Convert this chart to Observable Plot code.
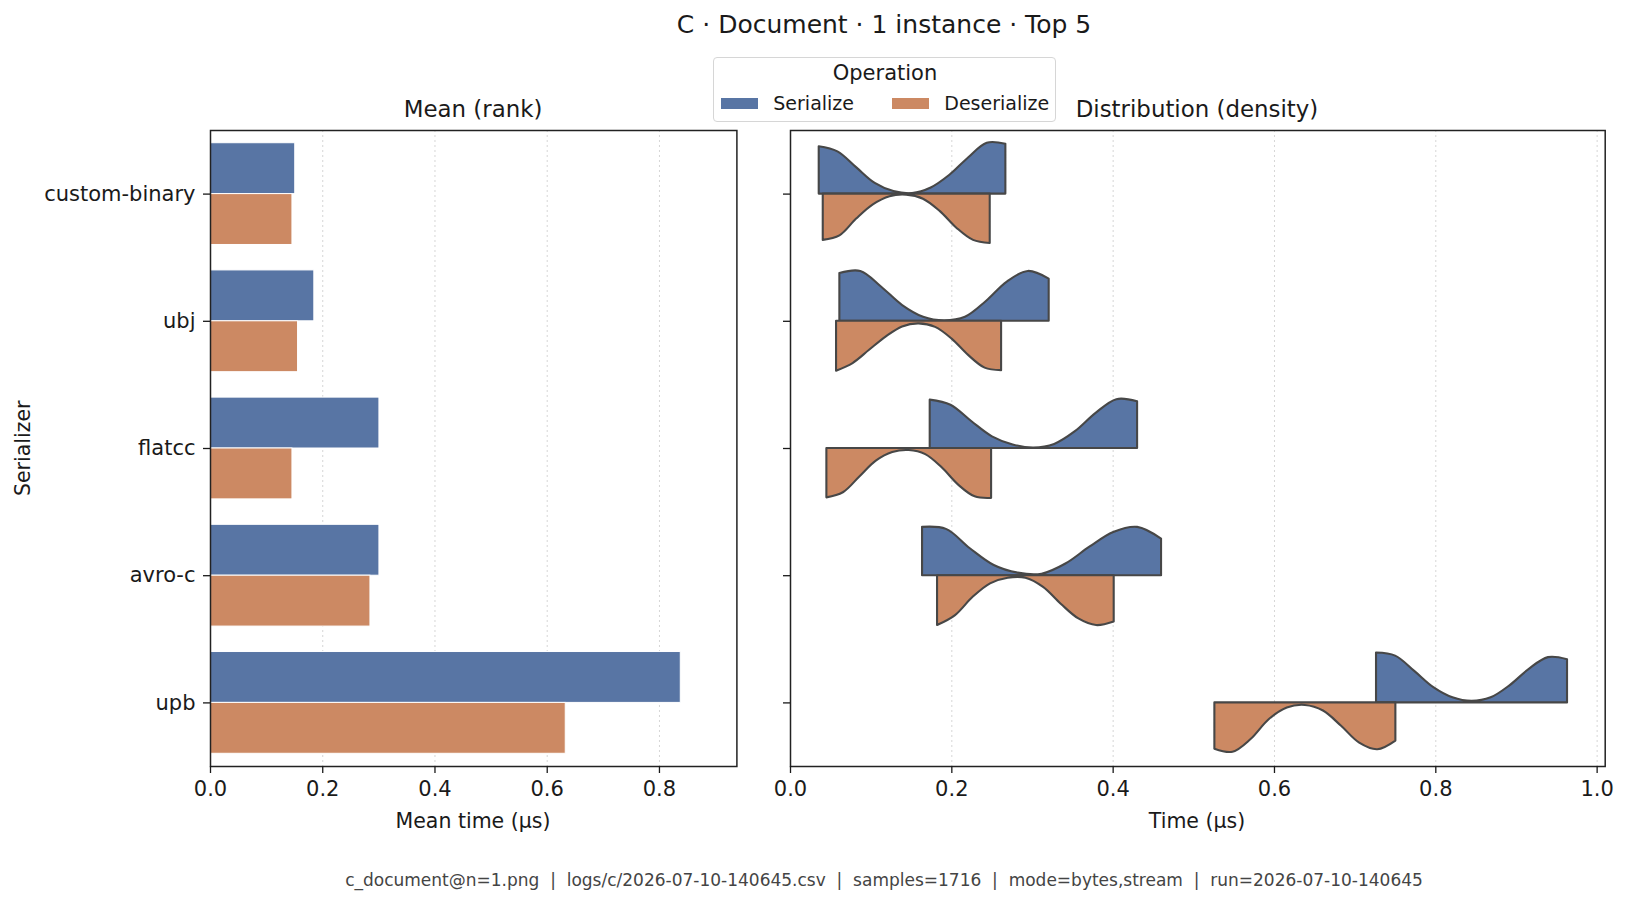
<!DOCTYPE html>
<html><head><meta charset="utf-8">
<script src="https://cdn.jsdelivr.net/npm/d3@7"></script>
<script src="https://cdn.jsdelivr.net/npm/@observablehq/plot@0.6"></script>
<style>
body{margin:0;background:#fff;}
#root{position:relative;width:1627px;height:905px;font-family:"DejaVu Sans",sans-serif;color:#1a1a1a;overflow:hidden;background:#fff;}
.t{position:absolute;white-space:pre;}
svg{position:absolute;overflow:visible;}
</style></head>
<body><div id="root"></div>
<script>
// ---------------- data ----------------
const titleText = "C · Document · 1 instance · Top 5";
const footerText = "c_document@n=1.png  |  logs/c/2026-07-10-140645.csv  |  samples=1716  |  mode=bytes,stream  |  run=2026-07-10-140645";
const serializers = ["custom-binary", "ubj", "flatcc", "avro-c", "upb"];
const operations = ["Serialize", "Deserialize"];
const opColors = ["#5875a4", "#cc8963"];
const meanSerialize   = [0.151, 0.185, 0.301, 0.301, 0.838];
const meanDeserialize = [0.146, 0.156, 0.146, 0.285, 0.633];
const leftTicks  = [0.0, 0.2, 0.4, 0.6, 0.8];
const rightTicks = [0.0, 0.2, 0.4, 0.6, 0.8, 1.0];
// violin support (min,max time in µs) and relative density on an even 11-point grid
const serializeRange   = [[0.0356, 0.2670], [0.0612, 0.3207], [0.1732, 0.4303], [0.1637, 0.4600], [0.7265, 0.9633]];
const deserializeRange = [[0.0406, 0.2476], [0.0571, 0.2617], [0.0451, 0.2493], [0.1823, 0.4013], [0.5261, 0.7505]];
const serializeDensity = [
  [0.93, 0.83, 0.52, 0.21, 0.05, 0.01, 0.12, 0.37, 0.71, 1.00, 0.98],
  [0.94, 0.98, 0.67, 0.31, 0.08, 0.01, 0.08, 0.39, 0.77, 0.98, 0.83],
  [0.95, 0.85, 0.53, 0.23, 0.07, 0.01, 0.08, 0.33, 0.69, 0.96, 0.92],
  [0.95, 0.91, 0.53, 0.20, 0.05, 0.03, 0.23, 0.56, 0.85, 0.95, 0.72],
  [0.98, 0.92, 0.62, 0.30, 0.10, 0.03, 0.10, 0.34, 0.66, 0.89, 0.85]
];
const deserializeDensity = [
  [0.91, 0.82, 0.49, 0.21, 0.05, 0.02, 0.10, 0.34, 0.67, 0.91, 0.97],
  [0.98, 0.83, 0.57, 0.31, 0.11, 0.05, 0.12, 0.35, 0.67, 0.92, 0.97],
  [0.97, 0.87, 0.56, 0.25, 0.08, 0.04, 0.12, 0.38, 0.72, 0.95, 0.98],
  [0.98, 0.79, 0.43, 0.16, 0.05, 0.05, 0.23, 0.56, 0.85, 0.98, 0.91],
  [0.91, 0.97, 0.72, 0.33, 0.10, 0.05, 0.16, 0.46, 0.79, 0.92, 0.75]
];

// ---------------- tables ----------------
const barRows = serializers.flatMap((s, i) => [
  {s, i, op: "Serialize", v: meanSerialize[i]},
  {s, i, op: "Deserialize", v: meanDeserialize[i]}
]);
const violinRows = [];
serializers.forEach((s, i) => {
  [["Serialize", serializeRange[i], serializeDensity[i]], ["Deserialize", deserializeRange[i], deserializeDensity[i]]]
    .forEach(([op, [lo, hi], dens]) => {
      dens.forEach((d, k) => violinRows.push({key: s + "|" + op, i, op, t: lo + (hi - lo) * k / (dens.length - 1), d}));
    });
});

const root = document.getElementById("root");
function addText(txt, x, cy, size, opts = {}) {
  const el = document.createElement("div");
  el.className = "t";
  el.textContent = txt;
  el.style.fontSize = size + "px";
  el.style.lineHeight = (size * 1.2) + "px";
  el.style.top = (cy - size * 0.6) + "px";
  el.style.left = x + "px";
  el.style.transform = opts.rotate ? "translate(-50%,0) rotate(-90deg)" : (opts.anchor === "start" ? "none" : "translateX(-50%)");
  if (opts.color) el.style.color = opts.color;
  root.appendChild(el);
  return el;
}

const DW = 0.4; // half of the dodge width in category units
const color = {domain: operations, range: opColors};
const yScale = {domain: [-0.5, 4.5], reverse: true};
const axisStyle = {fontFamily: "DejaVu Sans", fontSize: "21px", color: "#1a1a1a", background: "transparent", overflow: "visible"};

// ---------------- left: mean bars ----------------
const left = Plot.plot({
  width: 760, height: 740,
  marginLeft: 210, marginRight: 23.6, marginTop: 10, marginBottom: 94,
  x: {domain: [0, 0.938]},
  y: yScale,
  color,
  style: axisStyle,
  marks: [
    Plot.ruleX(leftTicks.slice(1), {stroke: "#d6d6d6", strokeDasharray: "2,3", strokeWidth: 1}),
    Plot.rect(barRows, {
      x1: 0, x2: "v",
      y1: d => d.op === "Serialize" ? d.i - DW : d.i,
      y2: d => d.op === "Serialize" ? d.i : d.i + DW,
      fill: "op", stroke: "white", strokeWidth: 1
    }),
    Plot.frame({stroke: "#222", strokeWidth: 1.5}),
    Plot.axisX({ticks: leftTicks, tickFormat: d3.format(".1f"), tickSize: 7, tickPadding: 8, label: null, strokeWidth: 1.3}),
    Plot.axisY({ticks: [0, 1, 2, 3, 4], tickFormat: i => serializers[i], tickSize: 7, tickPadding: 8, label: null, strokeWidth: 1.3})
  ]
});
left.style.left = "0px"; left.style.top = "120px";
root.appendChild(left);

// ---------------- right: split violins ----------------
const right = Plot.plot({
  width: 867, height: 740,
  marginLeft: 30, marginRight: 22.3, marginTop: 10, marginBottom: 94,
  x: {domain: [0, 1.01]},
  y: yScale,
  color,
  style: axisStyle,
  marks: [
    Plot.ruleX(rightTicks.slice(1), {stroke: "#d6d6d6", strokeDasharray: "2,3", strokeWidth: 1}),
    Plot.areaY(violinRows, {
      x: "t",
      y1: "i",
      y2: d => d.op === "Serialize" ? d.i - DW * d.d : d.i + DW * d.d,
      z: "key", fill: "op", stroke: "#474747", strokeWidth: 2.1, curve: "catmull-rom"
    }),
    Plot.frame({stroke: "#222", strokeWidth: 1.5}),
    Plot.axisX({ticks: rightTicks, tickFormat: d3.format(".1f"), tickSize: 7, tickPadding: 8, label: null, strokeWidth: 1.3}),
    Plot.axisY({ticks: [0, 1, 2, 3, 4], tickFormat: () => "", tickSize: 7, label: null, strokeWidth: 1.3})
  ]
});
right.style.left = "760px"; right.style.top = "120px";
root.appendChild(right);

// ---------------- texts ----------------
addText(titleText, 884, 25, 25);
addText("Mean (rank)", 473, 110, 22.9);
addText("Distribution (density)", 1197, 110, 22.9);
addText("Mean time (µs)", 473, 821, 20.5);
addText("Time (µs)", 1197, 821, 20.5);
addText("Serializer", 23, 448, 20.5, {rotate: true}).style.transformOrigin = "50% 50%";
addText(footerText, 884, 880, 17, {color: "#444"});

// ---------------- legend ----------------
const box = document.createElement("div");
Object.assign(box.style, {position: "absolute", left: "713px", top: "57px", width: "343px", height: "65px",
  boxSizing: "border-box", border: "1.3px solid #d6d6d6", borderRadius: "4px", background: "rgba(255,255,255,0.8)"});
root.appendChild(box);
addText("Operation", 885, 74, 21);
const swX = [721, 892.3], txX = [773.3, 944.3];
operations.forEach((op, k) => {
  const sw = document.createElement("div");
  Object.assign(sw.style, {position: "absolute", left: swX[k] + "px", top: "97.7px", width: "36.7px", height: "11.3px", background: opColors[k]});
  root.appendChild(sw);
  addText(op, txX[k], 103.3, 19, {anchor: "start"});
});
</script>
</body></html>
